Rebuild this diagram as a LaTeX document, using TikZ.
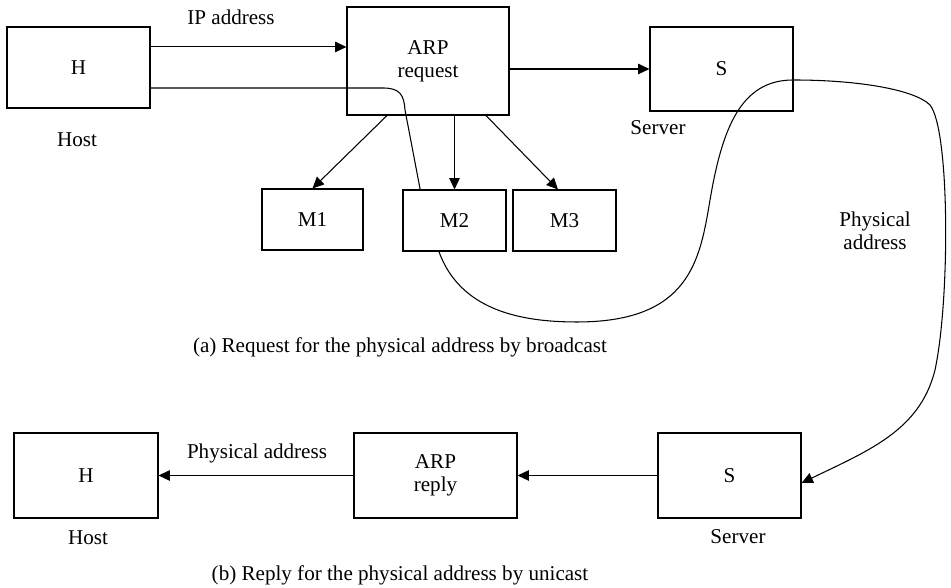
\documentclass[tikz,border=0pt]{standalone}
\usepackage{fontspec}
\setmainfont{Liberation Serif}
\usepackage{tikz}
\usetikzlibrary{arrows,arrows.meta,calc}
\tikzset{
 box/.style={draw, semithick, align=center, inner sep=0pt},
 arr/.style={semithick, -{Triangle[length=6.5pt,width=6pt]}}
}
\tikzstyle{wire}=[semithick]
\tikzstyle{lbl}=[inner sep=0pt, align=center]

\begin{document}
\begin{tikzpicture}[font=\fontsize{12}{13}\selectfont]
 \useasboundingbox (0,0) rectangle (19.02,11.76);
%
 \node[box, minimum width=2.86cm, minimum height=1.62cm] (H) at (1.57,10.41) {H};
 \node[box, minimum width=3.24cm, minimum height=2.16cm] (ARP) at (8.56,10.54) {ARP\\request};
 \node[box, minimum width=2.86cm, minimum height=1.68cm] (S) at (14.43,10.38) {S};
 \node[box, minimum width=2.02cm, minimum height=1.22cm] (M1) at (6.25,7.37) {M1};
 \node[box, minimum width=2.06cm, minimum height=1.22cm] (M2) at (9.09,7.35) {M2};
 \node[box, minimum width=2.06cm, minimum height=1.22cm] (M3) at (11.29,7.35) {M3};
%
 \node[box, minimum width=2.88cm, minimum height=1.70cm] (Hb) at (1.72,2.25) {H};
 \node[box, minimum width=3.26cm, minimum height=1.70cm] (ARPb) at (8.71,2.25) {ARP\\reply};
 \node[box, minimum width=2.86cm, minimum height=1.70cm] (Sb) at (14.59,2.25) {S};
%
 \node[lbl] (ip) at (4.62,11.42) {IP address};
 \node[lbl] (host) at (1.54,8.96) {Host};
 \node[lbl] (server) at (13.16,9.20) {Server};
 \node[lbl] (phys) at (17.50,7.14) {Physical\\address};
 \node[lbl] (capa) at (8.00,4.82) {(a) Request for the physical address by broadcast};
 \node[lbl] (physb) at (5.14,2.70) {Physical address};
 \node[lbl] (hostb) at (1.76,1.00) {Host};
 \node[lbl] (serverb) at (14.76,1.02) {Server};
 \node[lbl] (capb) at (8.00,0.26) {(b) Reply for the physical address by unicast};
%
 \coordinate (hip) at ($(H.north east)!.25!(H.south east)$);
 \coordinate (hout) at ($(H.north east)!.75!(H.south east)$);
 \draw[arr] (hip) -- (hip -| ARP.west);
 \draw[arr] (S.west -| ARP.east) -- (S.west);
 \draw[arr] ($(ARP.south)+(-0.82,0)$) -- (M1.north);
 \draw[arr] (M2.north |- ARP.south) -- (M2.north);
 \draw[arr] ($(ARP.south)+(1.16,0)$) -- ($(M3.north)+(-0.13,0)$);
%
 \draw[wire] (hout) -- (7.66,10.00) .. controls (8.00,10.00) and (8.08,9.86) .. (8.10,9.56)
  -- ($(M2.north west)!.17!(M2.north east)$);
 \draw[arr] ($(M2.south west)!.35!(M2.south east)$) .. controls (9.20,5.56) and (10.40,5.32) .. (11.54,5.32)
  .. controls (13.80,5.32) and (14.00,6.56) .. (14.20,7.76)
  .. controls (14.44,9.16) and (14.80,10.16) .. (15.86,10.16)
  .. controls (17.20,10.16) and (18.30,9.96) .. (18.60,9.66)
  .. controls (19.00,9.16) and (19.00,5.76) .. (18.70,4.36)
  .. controls (18.40,3.16) and (17.40,2.76) .. ($(Sb.east)+(0,-0.15)$);
%
 \draw[arr] (Sb.west) -- (Sb.west -| ARPb.east);
 \draw[arr] (ARPb.west) -- (ARPb.west -| Hb.east);
\end{tikzpicture}
\end{document}
